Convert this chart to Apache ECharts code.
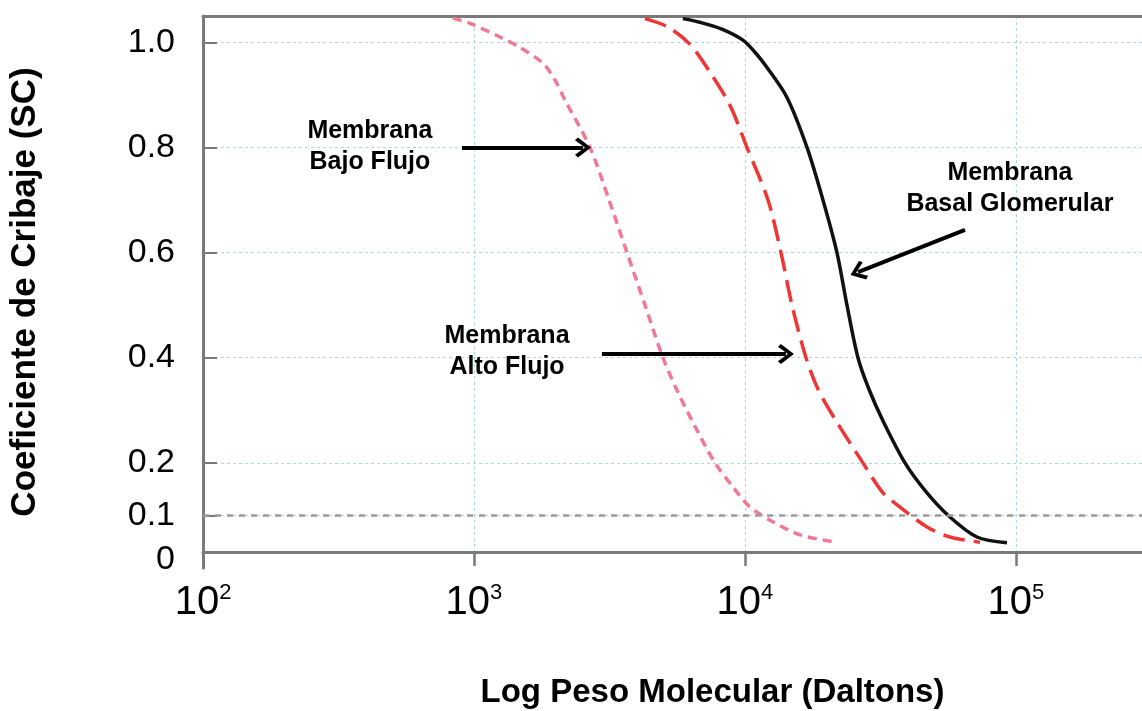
<!DOCTYPE html>
<html>
<head>
<meta charset="utf-8">
<script src="https://cdn.jsdelivr.net/npm/echarts@6/dist/echarts.min.js"></script>
<style>
  html, body { margin: 0; padding: 0; background: #fff; }
  #container { width: 1142px; height: 711px; }
</style>
</head>
<body>
<div id="container"></div>
<script>
// peso molecular (Daltons) y coeficiente de cribaje
var pesoBasal = [5900, 6820, 8220, 9830, 10890, 12060, 14290, 16940, 19400, 21850, 23790, 26120, 28680, 32300, 38950, 46950, 57080, 71800, 92640];
var scBasal   = [1.045, 1.038, 1.025, 1.004, 0.981, 0.952, 0.895, 0.800, 0.700, 0.600, 0.500, 0.400, 0.340, 0.280, 0.200, 0.143, 0.097, 0.059, 0.048];

var pesoAlto = [4276, 5155, 6266, 7428, 8805, 10170, 12160, 13580, 14910, 16800, 18600, 21670, 27250, 32300, 37330, 46950, 57080, 73650];
var scAlto   = [1.045, 1.030, 0.996, 0.943, 0.880, 0.800, 0.700, 0.600, 0.500, 0.400, 0.340, 0.280, 0.200, 0.143, 0.116, 0.078, 0.059, 0.049];

var pesoBajo = [836, 966, 1247, 1479, 1797, 1991, 2167, 2680, 3150, 3670, 4276, 4983, 5612, 6653, 7752, 9031, 10435, 12370, 15960, 21850];
var scBajo   = [1.046, 1.036, 1.010, 0.990, 0.960, 0.928, 0.890, 0.800, 0.700, 0.600, 0.500, 0.400, 0.338, 0.262, 0.200, 0.154, 0.116, 0.091, 0.063, 0.049];

var yTicks = [0, 0.1, 0.2, 0.4, 0.6, 0.8, 1.0];
var limiteSC = 0.1;

// anotaciones: texto y flechas (coordenadas de datos)
var notas = [
  [413, 0.802, 'Membrana\nBajo Flujo'],
  [1324, 0.412, 'Membrana\nAlto Flujo'],
  [95000, 0.722, 'Membrana\nBasal Glomerular']
];
var flechas = [
  [[903, 0.8], [2525, 0.8]],
  [[2965, 0.407], [14160, 0.407]],
  [[64860, 0.643], [26120, 0.563]]
];

function pares(xs, ys) {
  return xs.map(function (x, i) { return [x, ys[i]]; });
}

var gris = '#7a7a7a';
var rejilla = '#a6dadd';
var punta = 'path://M0,0 L11,13 L8,16 L0,6 L-8,16 L-11,13 Z';

var dom = document.getElementById('container');
var myChart = echarts.init(dom);

var option = {
  animation: false,
  backgroundColor: '#fff',
  grid: { left: 203, right: -40, top: 16, bottom: 143, outerBoundsMode: 'none', containLabel: false },
  xAxis: [{
    type: 'log',
    logBase: 10,
    min: 100,
    max: 410000,
    offset: -16,
    name: 'Log Peso Molecular (Daltons)',
    nameLocation: 'middle',
    nameGap: 124,
    nameTextStyle: {
      fontFamily: 'Liberation Sans', fontSize: 33, fontWeight: 'bold', color: '#000',
      padding: [0, 0, 0, 40]
    },
    axisLine: { lineStyle: { color: gris, width: 3 } },
    axisTick: { inside: false, length: 14, lineStyle: { color: gris, width: 2.5 } },
    axisLabel: {
      margin: 30,
      formatter: function (v) {
        var e = Math.round(Math.log10(v));
        if (Math.abs(Math.pow(10, e) - v) > 1e-6 * v || e > 5) return '';
        return '{b|10}{s|' + e + '}';
      },
      rich: {
        b: { fontFamily: 'Liberation Sans', fontSize: 40, color: '#000', lineHeight: 42 },
        s: { fontFamily: 'Liberation Sans', fontSize: 22, color: '#000', lineHeight: 24, verticalAlign: 'top' }
      }
    },
    splitLine: { show: true, lineStyle: { color: rejilla, width: 1, type: [3, 3] } }
  }, {
    type: 'log',
    logBase: 10,
    min: 100,
    max: 410000,
    position: 'top',
    axisLine: { lineStyle: { color: gris, width: 3 } },
    axisTick: { show: false },
    axisLabel: { show: false },
    splitLine: { show: false }
  }],
  yAxis: {
    type: 'value',
    min: 0,
    max: 1.05,
    interval: 0.2,
    name: 'Coeficiente de Cribaje (SC)',
    nameLocation: 'middle',
    nameRotate: 90,
    nameGap: 160,
    nameTextStyle: { fontFamily: 'Liberation Sans', fontSize: 35, fontWeight: 'bold', color: '#000' },
    axisLine: { show: true, lineStyle: { color: gris, width: 3 } },
    axisTick: {
      show: true, inside: true, length: 14,
      customValues: [0.1, 0.2, 0.4, 0.6, 0.8, 1.0],
      lineStyle: { color: gris, width: 2 }
    },
    axisLabel: {
      margin: 28,
      customValues: yTicks,
      formatter: function (v) {
        if (v === 0) return '{z|0}';
        return '{n|' + v.toFixed(1) + '}';
      },
      rich: {
        n: { fontFamily: 'Liberation Sans', fontSize: 34, color: '#000' },
        z: { fontFamily: 'Liberation Sans', fontSize: 34, color: '#000', padding: [0, 0, 16, 0] }
      }
    },
    splitLine: { show: true, lineStyle: { color: rejilla, width: 1, type: [3, 3] } }
  },
  series: [
    {
      name: 'Membrana Basal Glomerular',
      type: 'line',
      smooth: 0.3,
      symbol: 'none',
      data: pares(pesoBasal, scBasal),
      lineStyle: { color: '#111', width: 3.5 },
      markLine: {
        silent: true,
        symbol: 'none',
        label: { show: false },
        lineStyle: { color: '#9a9a9a', width: 2.5, type: [6, 6] },
        data: [{ yAxis: limiteSC }]
      }
    },
    {
      name: 'Membrana Alto Flujo',
      type: 'line',
      smooth: 0.3,
      symbol: 'none',
      data: pares(pesoAlto, scAlto),
      lineStyle: { color: '#f03535', width: 3.5, type: [22, 9] }
    },
    {
      name: 'Membrana Bajo Flujo',
      type: 'line',
      smooth: 0.3,
      symbol: 'none',
      data: pares(pesoBajo, scBajo),
      lineStyle: { color: '#f27896', width: 3.5, type: [9, 6] },
      markLine: {
        silent: true,
        symbol: ['none', punta],
        symbolSize: [20, 16],
        label: { show: false },
        lineStyle: { color: '#000', width: 4, type: 'solid' },
        data: flechas.map(function (f) {
          return [{ coord: f[0] }, { coord: f[1] }];
        })
      }
    },
    {
      name: 'notas',
      type: 'scatter',
      symbolSize: 1,
      itemStyle: { color: 'transparent' },
      silent: true,
      data: notas,
      label: {
        show: true,
        position: 'inside',
        formatter: function (p) { return p.data[2]; },
        fontFamily: 'Liberation Sans',
        fontSize: 25,
        fontWeight: 'bold',
        lineHeight: 31,
        align: 'center',
        color: '#000',
        opacity: 1
      }
    }
  ]
};

myChart.setOption(option, true);
</script>
</body>
</html>
